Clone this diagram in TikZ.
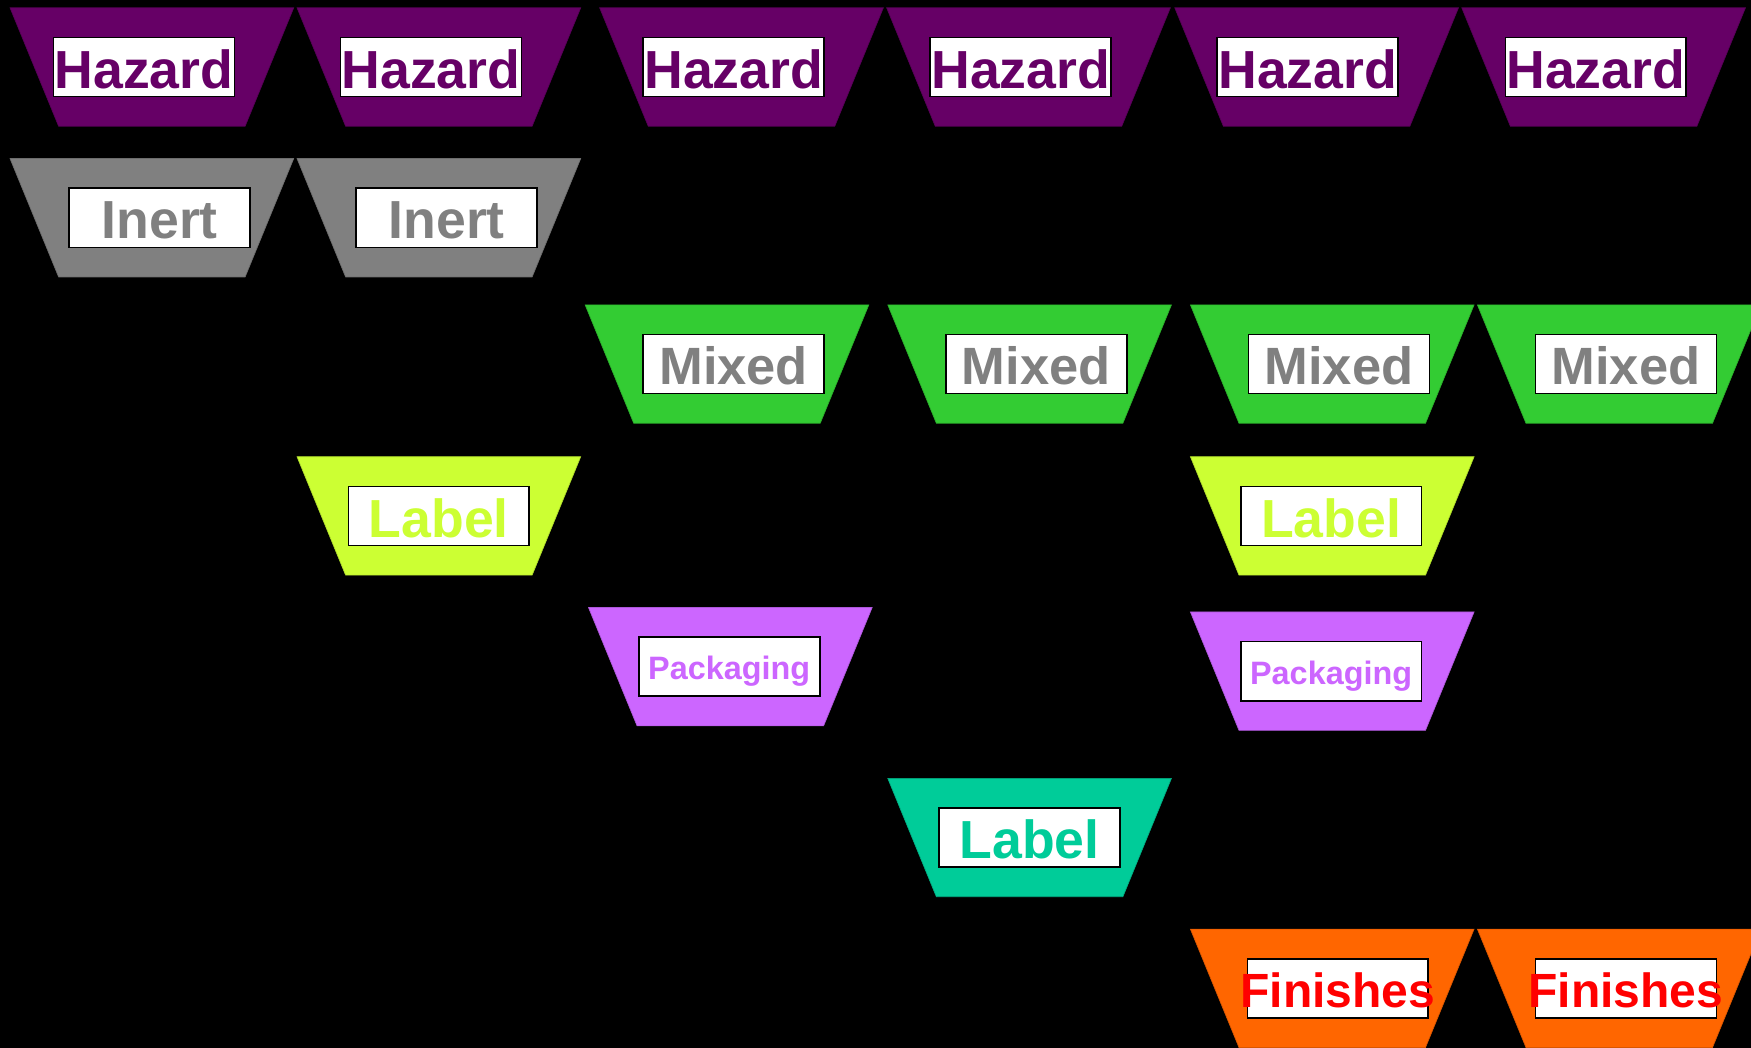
\documentclass[tikz,border=0pt]{standalone}
\usepackage{fontspec}
\setmainfont{Liberation Sans}
\definecolor{hzc}{HTML}{660066}
\definecolor{inc}{HTML}{808080}
\definecolor{mxc}{HTML}{33CC33}
\definecolor{lbc}{HTML}{CCFF33}
\definecolor{pkc}{HTML}{CC66FF}
\definecolor{tlc}{HTML}{00CC99}
\definecolor{fnc}{HTML}{FF6600}
\definecolor{fnt}{HTML}{FF0000}
\tikzset{
  tbox/.style={draw=black, fill=white, line width=1.5pt, inner sep=0pt,
    minimum width=162pt, minimum height=53pt, text depth=0pt},
  trapfill/.style={fill=#1, draw=#1!85!black, line width=0.6pt}
}
% #1 name, #2 x left top, #3 y top, #4 fill, #5 box left x, #6 text colour, #7 text, #8 font size, #9 cap height
\newcommand\trapz[9]{%
  \path[trapfill=#4] (#2,#3) coordinate (#1-t) -- ++(254,0) -- ++(-43.5,106) -- ++(-167,0) -- cycle;
  \node[tbox, text height=#9pt] (#1) at (#5+81,#3+53)
    {\fontsize{#8pt}{#8pt}\selectfont\bfseries\makebox[0pt]{\textcolor{#6}{#7}}};
}
\begin{document}
\begin{tikzpicture}[x=1pt,y=-1pt]
\useasboundingbox (0,0) rectangle (1568,938);
\fill[black] (-3,-3) rectangle (1571,941);
\clip (0,0) rectangle (1568,938);
% row 1: Hazard
\trapz{hz1}{9}{7}{hzc}{48}{hzc}{Hazard}{48}{38}
\trapz{hz2}{266}{7}{hzc}{305}{hzc}{Hazard}{48}{38}
\trapz{hz3}{537}{7}{hzc}{576}{hzc}{Hazard}{48}{38}
\trapz{hz4}{794}{7}{hzc}{833}{hzc}{Hazard}{48}{38}
\trapz{hz5}{1052}{7}{hzc}{1090}{hzc}{Hazard}{48}{38}
\trapz{hz6}{1309}{7}{hzc}{1348}{hzc}{Hazard}{48}{38}
% row 2: Inert
\trapz{in1}{9}{142}{inc}{62}{inc}{Inert}{48}{38}
\trapz{in2}{266}{142}{inc}{319}{inc}{Inert}{48}{38}
% row 3: Mixed
\trapz{mx1}{524}{273}{mxc}{576}{inc}{Mixed}{47}{37}
\trapz{mx2}{795}{273}{mxc}{847}{inc}{Mixed}{47}{37}
\trapz{mx3}{1066}{273}{mxc}{1118}{inc}{Mixed}{47}{37}
\trapz{mx4}{1323}{273}{mxc}{1375}{inc}{Mixed}{47}{37}
% row 4: Label (lime)
\trapz{lb1}{266}{409}{lbc}{312}{lbc}{Label}{48}{38}
\trapz{lb2}{1066}{409}{lbc}{1111}{lbc}{Label}{48}{38}
% row 5: Packaging
\trapz{pk1}{527}{544}{pkc}{572}{pkc}{Packaging}{29}{23.5}
\trapz{pk2}{1066}{548}{pkc}{1111}{pkc}{Packaging}{29}{23.5}
% row 6: Label (teal)
\trapz{lb3}{795}{697}{tlc}{841}{tlc}{Label}{48}{38}
% row 7: Finishes
\trapz{fn1}{1066}{832}{fnc}{1117}{fnt}{Finishes}{43}{34}
\trapz{fn2}{1323}{832}{fnc}{1375}{fnt}{Finishes}{43}{34}
\end{tikzpicture}
\end{document}
